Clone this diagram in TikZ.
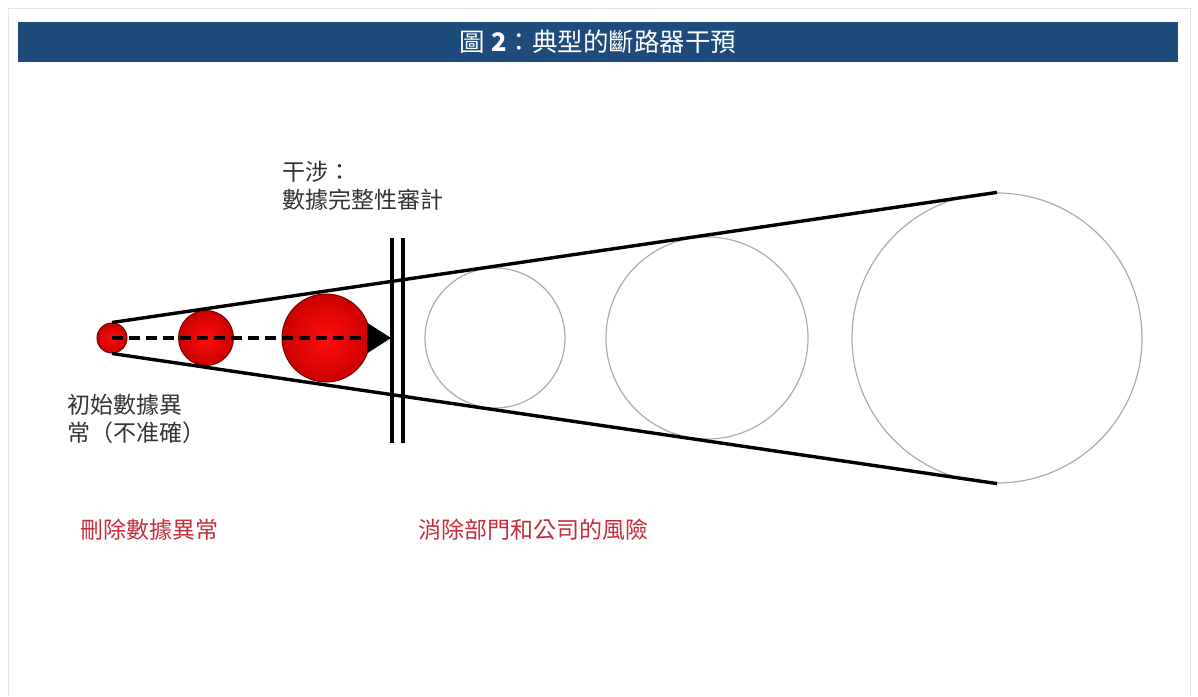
\documentclass[tikz,border=0pt]{standalone}
\usepackage{fontspec}
\setmainfont{Noto Sans CJK TC}
\usetikzlibrary{arrows.meta}
\definecolor{barblue}{HTML}{1D4B7B}
\definecolor{notegray}{HTML}{333333}
\definecolor{notered}{HTML}{C42E3A}

\begin{document}
\begin{tikzpicture}[x=1pt, y=-1pt,
    redball/.style={circle, draw=red!45!black, line width=1pt, inner sep=0pt, inner color=red!95!white, outer color=red!80!black},
    ring/.style={circle, draw=gray!65, line width=1.2pt, inner sep=0pt},
    note/.style={inner sep=0pt, align=left, text=notegray, font=\fontsize{23}{28}\selectfont},
    warn/.style={inner sep=0pt, anchor=west, text=notered, font=\fontsize{23}{28}\selectfont}]
        \useasboundingbox (0,0) rectangle (1198,696);
        % frame and title
        \draw[gray!20, line width=1pt] (8,696) -- (8,8) -- (1190,8) -- (1190,696);
        \node (title) [fill=barblue, minimum width=1160pt, minimum height=40pt, text=white, font=\fontsize{25.5}{28}\selectfont] at (598,42) {圖 \textbf{2}：典型的斷路器干預};

        % Nodes
        \node (seed) [redball, minimum size=30pt] at (112,338) {};
        \node (growA) [redball, minimum size=55pt] at (206,338) {};
        \node (growB) [redball, minimum size=88pt] at (326,338) {};
        \node (riskA) [ring, minimum size=140pt] at (495,338) {};
        \node (riskB) [ring, minimum size=202pt] at (707,338) {};
        \node (riskC) [ring, minimum size=290pt] at (997,338) {};
        \coordinate (halt) at (391,338);

        \node (audit) [note, anchor=north west] at (282,161) {干涉：\\數據完整性審計};
        \node (origin) [note, anchor=north west] at (67,394) {初始數據異\\常（不准確）};
        \node (dropNote) [warn] at (80,530) {刪除數據異常};
        \node (riskNote) [warn] at (418,530) {消除部門和公司的風險};

        % Edges
        \draw[line width=3.4pt] (seed.north) -- (riskC.north);
        \draw[line width=3.4pt] (seed.south) -- (riskC.south);
        \draw[line width=3.2pt, dash pattern=on 11pt off 6pt, -{Triangle[length=24pt, width=30pt]}] (seed.center) -- (halt);

        % barrier
        \draw[line width=3.6pt] (392,238) -- (392,443);
        \draw[line width=3.6pt] (403,238) -- (403,443);
    \end{tikzpicture}
\end{document}
